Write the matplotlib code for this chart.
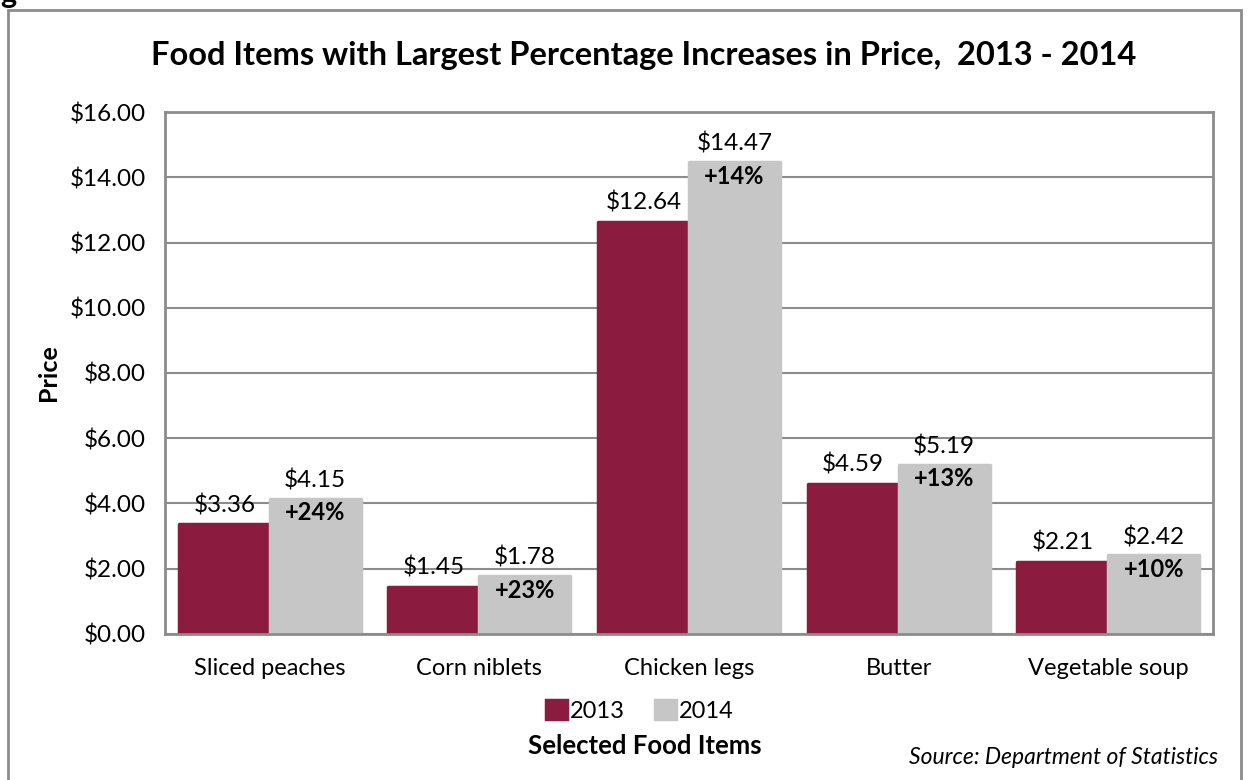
import matplotlib.pyplot as plt
import numpy as np
from matplotlib.patches import Rectangle

plt.rcParams['font.family'] = ['Lato', 'DejaVu Sans']

categories = ["Sliced peaches", "Corn niblets", "Chicken legs", "Butter", "Vegetable soup"]
price_2013 = [3.36, 1.45, 12.64, 4.59, 2.21]
price_2014 = [4.15, 1.78, 14.47, 5.19, 2.42]
pct_change = ["+24%", "+23%", "+14%", "+13%", "+10%"]
yticks = [0, 2, 4, 6, 8, 10, 12, 14, 16]

C2013 = "#8B1C40"
C2014 = "#C6C6C6"
GRID = "#8C8C8C"

fig = plt.figure(figsize=(12.48, 7.8), dpi=100)
ax = fig.add_axes([0.1322, 0.1872, 0.8398, 0.6692])

x = np.arange(len(categories))
w = 0.434
b1 = ax.bar(x - w / 2, price_2013, w, color=C2013, edgecolor=C2013, linewidth=2.5,
            joinstyle="round", label="2013", zorder=3)
b2 = ax.bar(x + w / 2, price_2014, w, color=C2014, edgecolor=C2014, linewidth=2.5,
            joinstyle="round", label="2014", zorder=3)

for xi, v in zip(x, price_2013):
    ax.annotate(f"${v:.2f}", (xi - w / 2, v), xytext=(0, 6), textcoords="offset points",
                ha="center", va="bottom", fontsize=17.5)
for xi, v, pc in zip(x, price_2014, pct_change):
    ax.annotate(f"${v:.2f}", (xi + w / 2, v), xytext=(0, 5), textcoords="offset points",
                ha="center", va="bottom", fontsize=17.5)
    ax.annotate(pc, (xi + w / 2, v), xytext=(0, -2), textcoords="offset points",
                ha="center", va="top", fontsize=17, fontweight="bold")

ax.set_xlim(-0.5, len(categories) - 0.5)
ax.set_ylim(0, 16)
ax.set_yticks(yticks)
ax.set_yticklabels([f"${t:.2f}" for t in yticks], fontsize=17.5)
ax.set_xticks(x)
ax.set_xticklabels(categories, fontsize=17)
ax.tick_params(axis="x", length=0, pad=17)
ax.tick_params(axis="y", length=0, pad=14)
ax.grid(axis="y", color=GRID, linewidth=1.5, zorder=0)
for s in ax.spines.values():
    s.set_color(GRID)
    s.set_linewidth(2)
    s.set_zorder(4)

ax.set_ylabel("Price", fontsize=18, fontweight="bold", labelpad=7)

ax.legend(handles=[b1, b2], loc="upper center", bbox_to_anchor=(0.453, -0.085), ncol=2,
          frameon=False, fontsize=17, handlelength=0.9, handleheight=0.9,
          handletextpad=0.1, columnspacing=1.3)

fig.text(0.516, 0.929, "Food Items with Largest Percentage Increases in Price,  2013 - 2014",
         ha="center", va="center", fontsize=23.5, fontweight="bold")
fig.text(0.517, 0.043, "Selected Food Items", ha="center", va="center",
         fontsize=18.5, fontweight="bold")
fig.text(0.976, 0.029, "Source: Department of Statistics", ha="right", va="center",
         fontsize=16.5, style="italic")
fig.text(0.0, 0.996, "g", ha="left", va="baseline", fontsize=22, fontweight="bold")

fig.patches.append(Rectangle((8 / 1248, -0.05), (1241 - 8) / 1248, 1.05 - 10 / 780,
                             transform=fig.transFigure, fill=False, edgecolor="#8C8C8C",
                             linewidth=2, figure=fig))

fig.savefig("out.png", dpi=100)
